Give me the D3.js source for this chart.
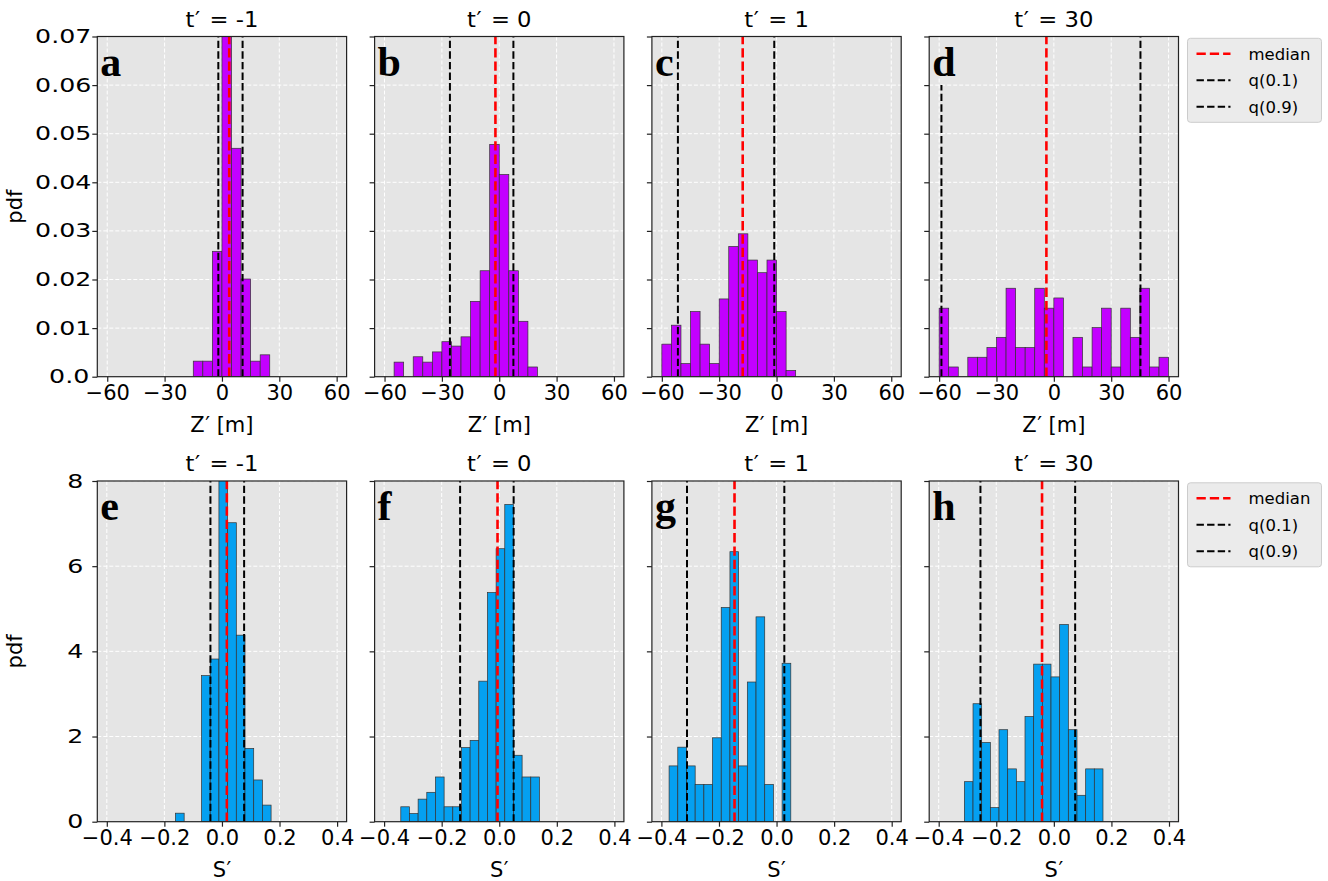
<!DOCTYPE html>
<html>
<head>
<meta charset="utf-8">
<script src="https://cdn.jsdelivr.net/npm/d3@7"></script>
<style>
  body { margin: 0; background: #fff; }
  svg { display: block; }
  text { font-family: "DejaVu Sans", sans-serif; fill: #000; }
</style>
</head>
<body>
<svg id="fig" width="1328" height="881"></svg>
<script>
// ---- data ---------------------------------------------------------------
const timeLabels = ["-1", "0", "1", "30"];
const lettersZ = ["a", "b", "c", "d"];
const lettersS = ["e", "f", "g", "h"];

// Z' histograms: pdf per 5 m bin, first bin edge given per panel
const zBinWidth = 5;
const zBinStart = [-15, -55, -60, -60];
const zPdfA = [0.0032, 0.0032, 0.0258, 0.0930, 0.0470, 0.0201, 0.0032, 0.0045];
const zPdfB = [0.0030, 0, 0.0041, 0.0030, 0.0051, 0.0072, 0.0063, 0.0082, 0.0155, 0.0218,
               0.0478, 0.0416, 0.0218, 0.0114, 0.0020];
const zPdfC = [0.0067, 0.0106, 0.0027, 0.0134, 0.0067, 0.0027, 0.0160, 0.0268, 0.0294, 0.0240,
               0.0214, 0.0240, 0.0134, 0.0013];
const zPdfD = [0.0141, 0.0020, 0, 0.0040, 0.0040, 0.0060, 0.0081, 0.0182, 0.0060, 0.0060,
               0.0182, 0.0141, 0.0162, 0, 0.0081, 0.0020, 0.0101, 0.0141, 0.0020, 0.0141,
               0.0081, 0.0182, 0.0020, 0.0040];

// S' histograms: bins span the data range, so start and width differ per panel
const sBinStart = [-0.1615, -0.342, -0.3733, -0.3109];
const sBinWidth = [0.0302, 0.0301, 0.0302, 0.0301];
const sPdfE = [0.20, 0, 0, 3.43, 3.82, 11.2, 7.02, 4.38, 1.72, 0.98, 0.39];
const sPdfF = [0.35, 0.19, 0.53, 0.69, 1.05, 0.35, 0.35, 1.74, 1.91, 3.30, 5.38, 6.41, 7.45,
               1.56, 1.05, 1.05];
const sPdfG = [1.31, 1.75, 1.31, 0.875, 0.875, 1.97, 5.03, 6.34, 1.31, 3.28, 4.81, 0.875, 0, 3.72];
const sPdfH = [0.94, 2.77, 1.86, 0.33, 2.16, 1.24, 0.94, 2.47, 3.70, 3.70, 3.40, 4.63, 2.16,
               0.62, 1.24, 1.24];

// q(0.1), median, q(0.9) for each panel
const zQ10 = [-1.9, -25.8, -51.6, -58.8];
const zMedian = [3.8, -2.0, -17.7, -3.9];
const zQ90 = [10.8, 7.4, -1.2, 45.3];
const zQ10Top = [null, null, null, 0.06];   // upper end of the q(0.1) line where it stops short
const sQ10 = [-0.040, -0.136, -0.311, -0.255];
const sMedian = [0.017, -0.006, -0.146, -0.041];
const sQ90 = [0.077, 0.050, 0.027, 0.074];

const zTicks = [-60, -30, 0, 30, 60];
const sTicks = [-0.4, -0.2, 0, 0.2, 0.4];
const zPdfTicks = [0, 0.01, 0.02, 0.03, 0.04, 0.05, 0.06, 0.07];
const sPdfTicks = [0, 2, 4, 6, 8];
const legendLabels = ["median", "q(0.1)", "q(0.9)"];

// ---- layout ---------------------------------------------------------------
const colLeft = [97.3, 374.6, 651.9, 929.2];
const panelW = 249.3;
const rowTop = [36.5, 481];
const rowBottom = [376.7, 821.7];

const bgColor = "#e5e5e5";
const purple = "#c300ff";
const blue = "#05a0f0";
const yTickStretch = 1.33;

const svg = d3.select("#fig");

function fmtMinus(s) { return s.replace("-", "\u2212"); }

// widen a text element horizontally about its own centre
function stretchX(sel, k) {
  sel.each(function () {
    const b = this.getBBox();
    const cx = b.x + b.width / 2;
    d3.select(this).attr("transform", `translate(${cx},0) scale(${k},1) translate(${-cx},0)`);
  });
}

const rows = [
  {
    pdfs: [zPdfA, zPdfB, zPdfC, zPdfD],
    starts: zBinStart, widths: [zBinWidth, zBinWidth, zBinWidth, zBinWidth],
    q10: zQ10, med: zMedian, q90: zQ90, q10Top: zQ10Top,
    xDomain: [-65.2, 65.2], yDomain: [0, 0.07],
    xTicks: zTicks, xFmt: d => fmtMinus(String(d)),
    yTicks: zPdfTicks, yFmt: d => d === 0 ? "0.0" : d3.format(".2f")(d), yPad: 8,
    color: purple, letters: lettersZ, xLabel: "Z", xUnit: " [m]"
  },
  {
    pdfs: [sPdfE, sPdfF, sPdfG, sPdfH],
    starts: sBinStart, widths: sBinWidth,
    q10: sQ10, med: sMedian, q90: sQ90, q10Top: [null, null, null, null],
    xDomain: [-0.433, 0.433], yDomain: [0, 8],
    xTicks: sTicks, xFmt: d => fmtMinus(d3.format(".1f")(d)),
    yTicks: sPdfTicks, yFmt: d => String(d), yPad: 11,
    color: blue, letters: lettersS, xLabel: "S", xUnit: ""
  }
];

rows.forEach((R, ri) => {
  const top = rowTop[ri], bottom = rowBottom[ri];
  const y = d3.scaleLinear().domain(R.yDomain).range([bottom, top]);

  for (let ci = 0; ci < 4; ci++) {
    const left = colLeft[ci], right = left + panelW;
    const x = d3.scaleLinear().domain(R.xDomain).range([left, right]);
    const g = svg.append("g");
    const clipId = `clip-${ri}-${ci}`;
    g.append("clipPath").attr("id", clipId)
      .append("rect").attr("x", left).attr("y", top)
      .attr("width", panelW).attr("height", bottom - top);

    // background
    g.append("rect").attr("x", left).attr("y", top)
      .attr("width", panelW).attr("height", bottom - top).attr("fill", bgColor);

    // grid
    const grid = g.append("g").attr("stroke", "#fff").attr("stroke-width", 1)
      .attr("stroke-dasharray", "4,2");
    R.xTicks.forEach(t => grid.append("line")
      .attr("x1", x(t)).attr("x2", x(t)).attr("y1", top).attr("y2", bottom));
    R.yTicks.forEach(t => grid.append("line")
      .attr("x1", left).attr("x2", right).attr("y1", y(t)).attr("y2", y(t)));

    // histogram bars
    const pdf = R.pdfs[ci];
    const bins = pdf.map((v, i) => ({
      x0: R.starts[ci] + i * R.widths[ci],
      x1: R.starts[ci] + (i + 1) * R.widths[ci],
      v
    })).filter(b => b.v > 0);
    g.append("g").attr("clip-path", `url(#${clipId})`)
      .selectAll("rect").data(bins).join("rect")
      .attr("x", b => x(b.x0)).attr("width", b => x(b.x1) - x(b.x0))
      .attr("y", b => y(b.v)).attr("height", b => y(0) - y(b.v))
      .attr("fill", R.color).attr("stroke", "#333").attr("stroke-width", 0.7);

    // quantile and median lines
    const lines = g.append("g").attr("clip-path", `url(#${clipId})`);
    const qTop = R.q10Top[ci] === null ? R.yDomain[1] : R.q10Top[ci];
    lines.append("line").attr("x1", x(R.q10[ci])).attr("x2", x(R.q10[ci]))
      .attr("y1", y(0)).attr("y2", y(qTop))
      .attr("stroke", "#000").attr("stroke-width", 2).attr("stroke-dasharray", "7.4,3.2");
    lines.append("line").attr("x1", x(R.q90[ci])).attr("x2", x(R.q90[ci]))
      .attr("y1", y(0)).attr("y2", y(R.yDomain[1]))
      .attr("stroke", "#000").attr("stroke-width", 2).attr("stroke-dasharray", "7.4,3.2");
    lines.append("line").attr("x1", x(R.med[ci])).attr("x2", x(R.med[ci]))
      .attr("y1", y(0)).attr("y2", y(R.yDomain[1]))
      .attr("stroke", "#f00").attr("stroke-width", 2.6).attr("stroke-dasharray", "9.3,4");

    // panel letter
    g.append("text").attr("x", left + 3).attr("y", top + 39)
      .style("font-family", "'Liberation Serif', 'Times New Roman', serif")
      .style("font-weight", "bold").style("font-size", "42px").text(R.letters[ci]);

    // frame
    g.append("rect").attr("x", left).attr("y", top)
      .attr("width", panelW).attr("height", bottom - top)
      .attr("fill", "none").attr("stroke", "#222").attr("stroke-width", 1.2);

    // x axis
    const xAxis = d3.axisBottom(x).tickValues(R.xTicks).tickFormat(R.xFmt)
      .tickSize(5).tickPadding(3.5);
    const xa = g.append("g").attr("transform", `translate(0,${bottom})`).call(xAxis);
    xa.select(".domain").remove();
    xa.selectAll("line").attr("stroke", "#222").attr("stroke-width", 1.2);
    xa.selectAll("text").style("font-size", "21px").style("font-family", "'DejaVu Sans'")
      .attr("fill", "#000");

    // y axis
    const yAxis = d3.axisLeft(y).tickValues(R.yTicks).tickSize(5).tickPadding(R.yPad)
      .tickFormat(ci === 0 ? R.yFmt : () => "");
    const ya = g.append("g").attr("transform", `translate(${left},0)`).call(yAxis);
    ya.select(".domain").remove();
    ya.selectAll("line").attr("stroke", "#222").attr("stroke-width", 1.2);
    ya.selectAll("text").style("font-size", "19px").style("font-family", "'DejaVu Sans'")
      .attr("fill", "#000");
    if (ci === 0) stretchX(ya.selectAll("text"), yTickStretch);

    // title:  t′ = value
    const title = g.append("text").attr("x", (left + right) / 2).attr("y", top - 9.5)
      .attr("text-anchor", "middle").style("font-size", "21px");
    title.append("tspan").text("t");
    title.append("tspan").attr("dx", 0.5).text("\u2032");
    title.append("tspan").attr("dx", 2).text(" = " + timeLabels[ci]);
    stretchX(title, 1.08);

    // x label
    const xl = g.append("text").attr("x", (left + right) / 2).attr("y", bottom + 55)
      .attr("text-anchor", "middle").style("font-size", "21px");
    xl.append("tspan").text(R.xLabel);
    xl.append("tspan").attr("dx", 0.5).text("\u2032" + R.xUnit);

    if (ci === 0) {
      g.append("text")
        .attr("transform", `translate(${left - 75},${(top + bottom) / 2}) rotate(-90)`)
        .attr("text-anchor", "middle").style("font-size", "21px").text("pdf");
    }
  }

  // legend
  const lx = 1187.5, ly = top + 1.8, lw = 134, lh = 84;
  const lg = svg.append("g");
  lg.append("rect").attr("x", lx).attr("y", ly).attr("width", lw).attr("height", lh)
    .attr("rx", 3).attr("fill", "#ebebeb").attr("stroke", "#cccccc").attr("stroke-width", 1);
  const styles = [
    { c: "#f00", w: 2.6, d: "9.3,4" },
    { c: "#000", w: 2, d: "7.4,3.2" },
    { c: "#000", w: 2, d: "7.4,3.2" }
  ];
  legendLabels.forEach((lab, i) => {
    const yy = ly + 15.5 + i * 26.5;
    lg.append("line").attr("x1", lx + 9).attr("x2", lx + 43).attr("y1", yy).attr("y2", yy)
      .attr("stroke", styles[i].c).attr("stroke-width", styles[i].w)
      .attr("stroke-dasharray", styles[i].d);
    lg.append("text").attr("x", lx + 61).attr("y", yy + 6).style("font-size", "16.5px").text(lab);
  });
});
</script>
</body>
</html>
